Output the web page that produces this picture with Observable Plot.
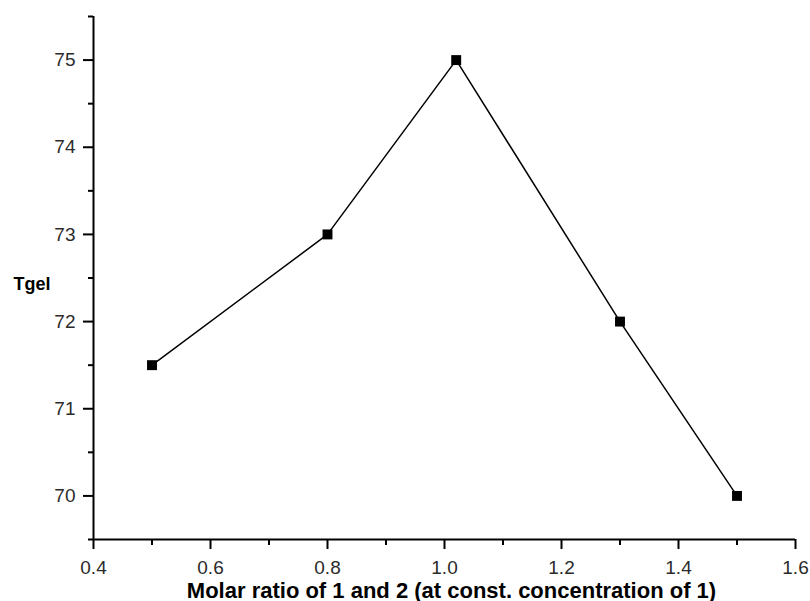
<!DOCTYPE html>
<html><head><meta charset="utf-8">
<script src="https://cdn.jsdelivr.net/npm/d3@7"></script>
<script src="https://cdn.jsdelivr.net/npm/@observablehq/plot@0.6"></script>
<style>body{margin:0;background:#fff}</style>
</head><body><div id="chart"></div>
<script>
const molarRatio = [0.5, 0.8, 1.02, 1.3, 1.5];
const tgel = [71.5, 73, 75, 72, 70];
const xMajorTicks = [0.4, 0.6, 0.8, 1.0, 1.2, 1.4, 1.6];
const xMinorTicks = [0.5, 0.7, 0.9, 1.1, 1.3, 1.5];
const yMajorTicks = [70, 71, 72, 73, 74, 75];
const yMinorTicks = [69.5, 70.5, 71.5, 72.5, 73.5, 74.5, 75.5];
const xTitle = "Molar ratio of 1 and 2 (at const. concentration of 1)";
const yTitle = "Tgel";

const data = molarRatio.map((x, i) => ({x, y: tgel[i]}));

const chart = Plot.plot({
  width: 810, height: 601,
  marginLeft: 93, marginRight: 15, marginTop: 16, marginBottom: 62,
  style: {fontFamily: "'Liberation Sans', Arial, sans-serif", background: "#fff", color: "#000"},
  x: {domain: [0.4, 1.6]},
  y: {domain: [69.5, 75.5]},
  marks: [
    Plot.axisX(xMinorTicks, {tickSize: 6, text: null, strokeWidth: 2, label: null}),
    Plot.axisX(xMajorTicks, {tickSize: 10, tickPadding: 11, fontSize: 19, strokeWidth: 2, label: null,
      tickFormat: d => d.toFixed(1), fill: "#2b2b2b"}),
    Plot.axisY(yMinorTicks, {tickSize: 5, text: null, strokeWidth: 2, label: null}),
    Plot.axisY(yMajorTicks, {tickSize: 10, tickPadding: 8, fontSize: 19, strokeWidth: 2, label: null,
      tickFormat: d => String(d), fill: "#2b2b2b"}),
    Plot.ruleX([0.4], {strokeWidth: 2}),
    Plot.ruleY([69.5], {strokeWidth: 2}),
    Plot.line(data, {x: "x", y: "y", stroke: "#000", strokeWidth: 1.5}),
    Plot.dot(data, {x: "x", y: "y", symbol: "square", r: 5.6, fill: "#000", stroke: "none"}),
    Plot.text([xTitle], {frameAnchor: "bottom", dx: 7, dy: 58, fontSize: 22, fontWeight: "bold", fill: "#000", text: d => d}),
    Plot.text([yTitle], {frameAnchor: "left", textAnchor: "start", dx: -80, dy: 6, fontSize: 18, fontWeight: "bold", fill: "#000", text: d => d})
  ]
});
d3.select(chart).selectAll('g[aria-label$="tick"]').attr("stroke-width", 2).attr("stroke", "#000");
document.getElementById("chart").append(chart);
</script>
</body></html>
